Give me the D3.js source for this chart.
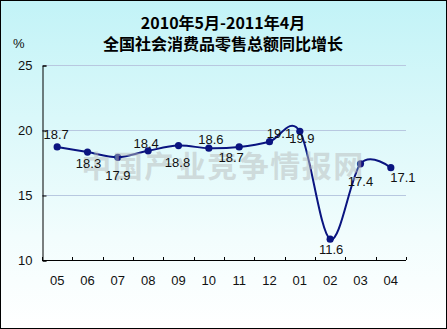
<!DOCTYPE html>
<html>
<head>
<meta charset="utf-8">
<script src="https://cdn.jsdelivr.net/npm/d3@7"></script>
<style>
  html, body { margin: 0; padding: 0; background: #fff; }
  svg { display: block; }
</style>
</head>
<body>
<svg id="chart" width="447" height="329"></svg>
<script>
// Monthly year-on-year growth of retail sales, May 2010 – Apr 2011
const months = ["05", "06", "07", "08", "09", "10", "11", "12", "01", "02", "03", "04"];
const growth = [18.7, 18.3, 17.9, 18.4, 18.8, 18.6, 18.7, 19.1, 19.9, 11.6, 17.4, 17.1];
const yTicks = [10, 15, 20, 25];
const titleLines = ["2010年5月-2011年4月", "全国社会消费品零售总额同比增长"];
const unitLabel = "%";
const watermark = "中国产业竞争情报网";

// label nudges (dx, dy from the point, dy to the text baseline)
const labelNudge = [
  [-1, -8], [1, 16], [0, 23], [-2, -3], [-1, 21], [2, -4],
  [-8, 15], [10, -4], [2, 12], [1, 15], [0, 22], [12, 14]
];

const W = 447, H = 329;
const svg = d3.select("#chart");

// background gradient
const defs = svg.append("defs");
const grad = defs.append("linearGradient").attr("id", "bg").attr("x1", 0).attr("y1", 0).attr("x2", 0).attr("y2", 1);
grad.append("stop").attr("offset", "0%").attr("stop-color", "#c2f3f7");
grad.append("stop").attr("offset", "72%").attr("stop-color", "#f2fdfd");
grad.append("stop").attr("offset", "100%").attr("stop-color", "#ffffff");
svg.append("rect").attr("x", 0.5).attr("y", 0.5).attr("width", W - 1).attr("height", H - 1)
  .attr("fill", "url(#bg)").attr("stroke", "#000").attr("stroke-width", 1);

const plotLeft = 42, plotRight = 406, plotTop = 65, plotBottom = 260;

const x = d3.scaleBand().domain(months).range([plotLeft, plotRight]);
const y = d3.scaleLinear().domain([10, 25]).range([plotBottom, plotTop]);

const font = "Arial, 'Liberation Sans', sans-serif";

// gridlines
svg.append("g").selectAll("line").data(yTicks.filter(d => d > 10)).join("line")
  .attr("x1", plotLeft).attr("x2", plotRight)
  .attr("y1", d => y(d) + 0.5).attr("y2", d => y(d) + 0.5)
  .attr("stroke", "#b8c8e0").attr("stroke-width", 1);

// y axis
const yAxis = d3.axisLeft(y).tickValues(yTicks).tickSize(-4).tickPadding(10);
const gy = svg.append("g").attr("transform", `translate(${plotLeft + 0.5},0.5)`).call(yAxis);
gy.select(".domain").attr("stroke", "#000");
gy.selectAll(".tick line").attr("stroke", "#000");
gy.selectAll("text").attr("font-family", font).attr("font-size", 13).attr("fill", "#111");

// x axis
const xAxis = d3.axisBottom(x).tickSize(0).tickPadding(15);
const gx = svg.append("g").attr("transform", `translate(0,${plotBottom + 0.5})`).call(xAxis);
gx.select(".domain").attr("stroke", "#000").attr("d", `M${plotLeft},0H${plotRight}`);
gx.selectAll("text").attr("font-family", font).attr("font-size", 13).attr("fill", "#111");
// category boundary ticks pointing inward
const bounds = months.map(m => x(m)).concat([plotRight]);
svg.append("g").selectAll("line").data(bounds).join("line")
  .attr("x1", d => Math.round(d) + 0.5).attr("x2", d => Math.round(d) + 0.5)
  .attr("y1", plotBottom - 3).attr("y2", plotBottom)
  .attr("stroke", "#000");

// series line
const pts = months.map((m, i) => [x(m) + x.bandwidth() / 2, y(growth[i])]);
const line = d3.line().curve(d3.curveCatmullRom.alpha(0));
svg.append("path").attr("d", line(pts))
  .attr("fill", "none").attr("stroke", "#0a1480").attr("stroke-width", 2);

svg.append("g").selectAll("circle").data(pts).join("circle")
  .attr("cx", d => d[0]).attr("cy", d => d[1]).attr("r", 3.6)
  .attr("fill", "#0a1480");

// watermark over the plot
svg.append("text").attr("x", 223).attr("y", 177)
  .attr("text-anchor", "middle")
  .attr("font-family", "'Noto Sans CJK SC', sans-serif").attr("font-weight", "bold")
  .attr("font-size", 30).attr("letter-spacing", 1.5)
  .attr("fill", "#b8bcbc").attr("fill-opacity", 0.5)
  .text(watermark);

// value labels
svg.append("g").selectAll("text").data(pts).join("text")
  .attr("x", (d, i) => d[0] + labelNudge[i][0])
  .attr("y", (d, i) => d[1] + labelNudge[i][1])
  .attr("text-anchor", "middle")
  .attr("font-family", font).attr("font-size", 13).attr("fill", "#111")
  .text((d, i) => growth[i].toFixed(1));

// titles
svg.append("g").selectAll("text").data(titleLines).join("text")
  .attr("x", 223).attr("y", (d, i) => 29 + i * 21)
  .attr("text-anchor", "middle")
  .attr("font-family", "'Noto Sans CJK SC', sans-serif").attr("font-weight", "bold")
  .attr("font-size", 16).attr("fill", "#000")
  .text(d => d);

svg.append("text").attr("x", 13).attr("y", 48)
  .attr("font-family", font).attr("font-size", 13).attr("fill", "#111")
  .text(unitLabel);
</script>
</body>
</html>
